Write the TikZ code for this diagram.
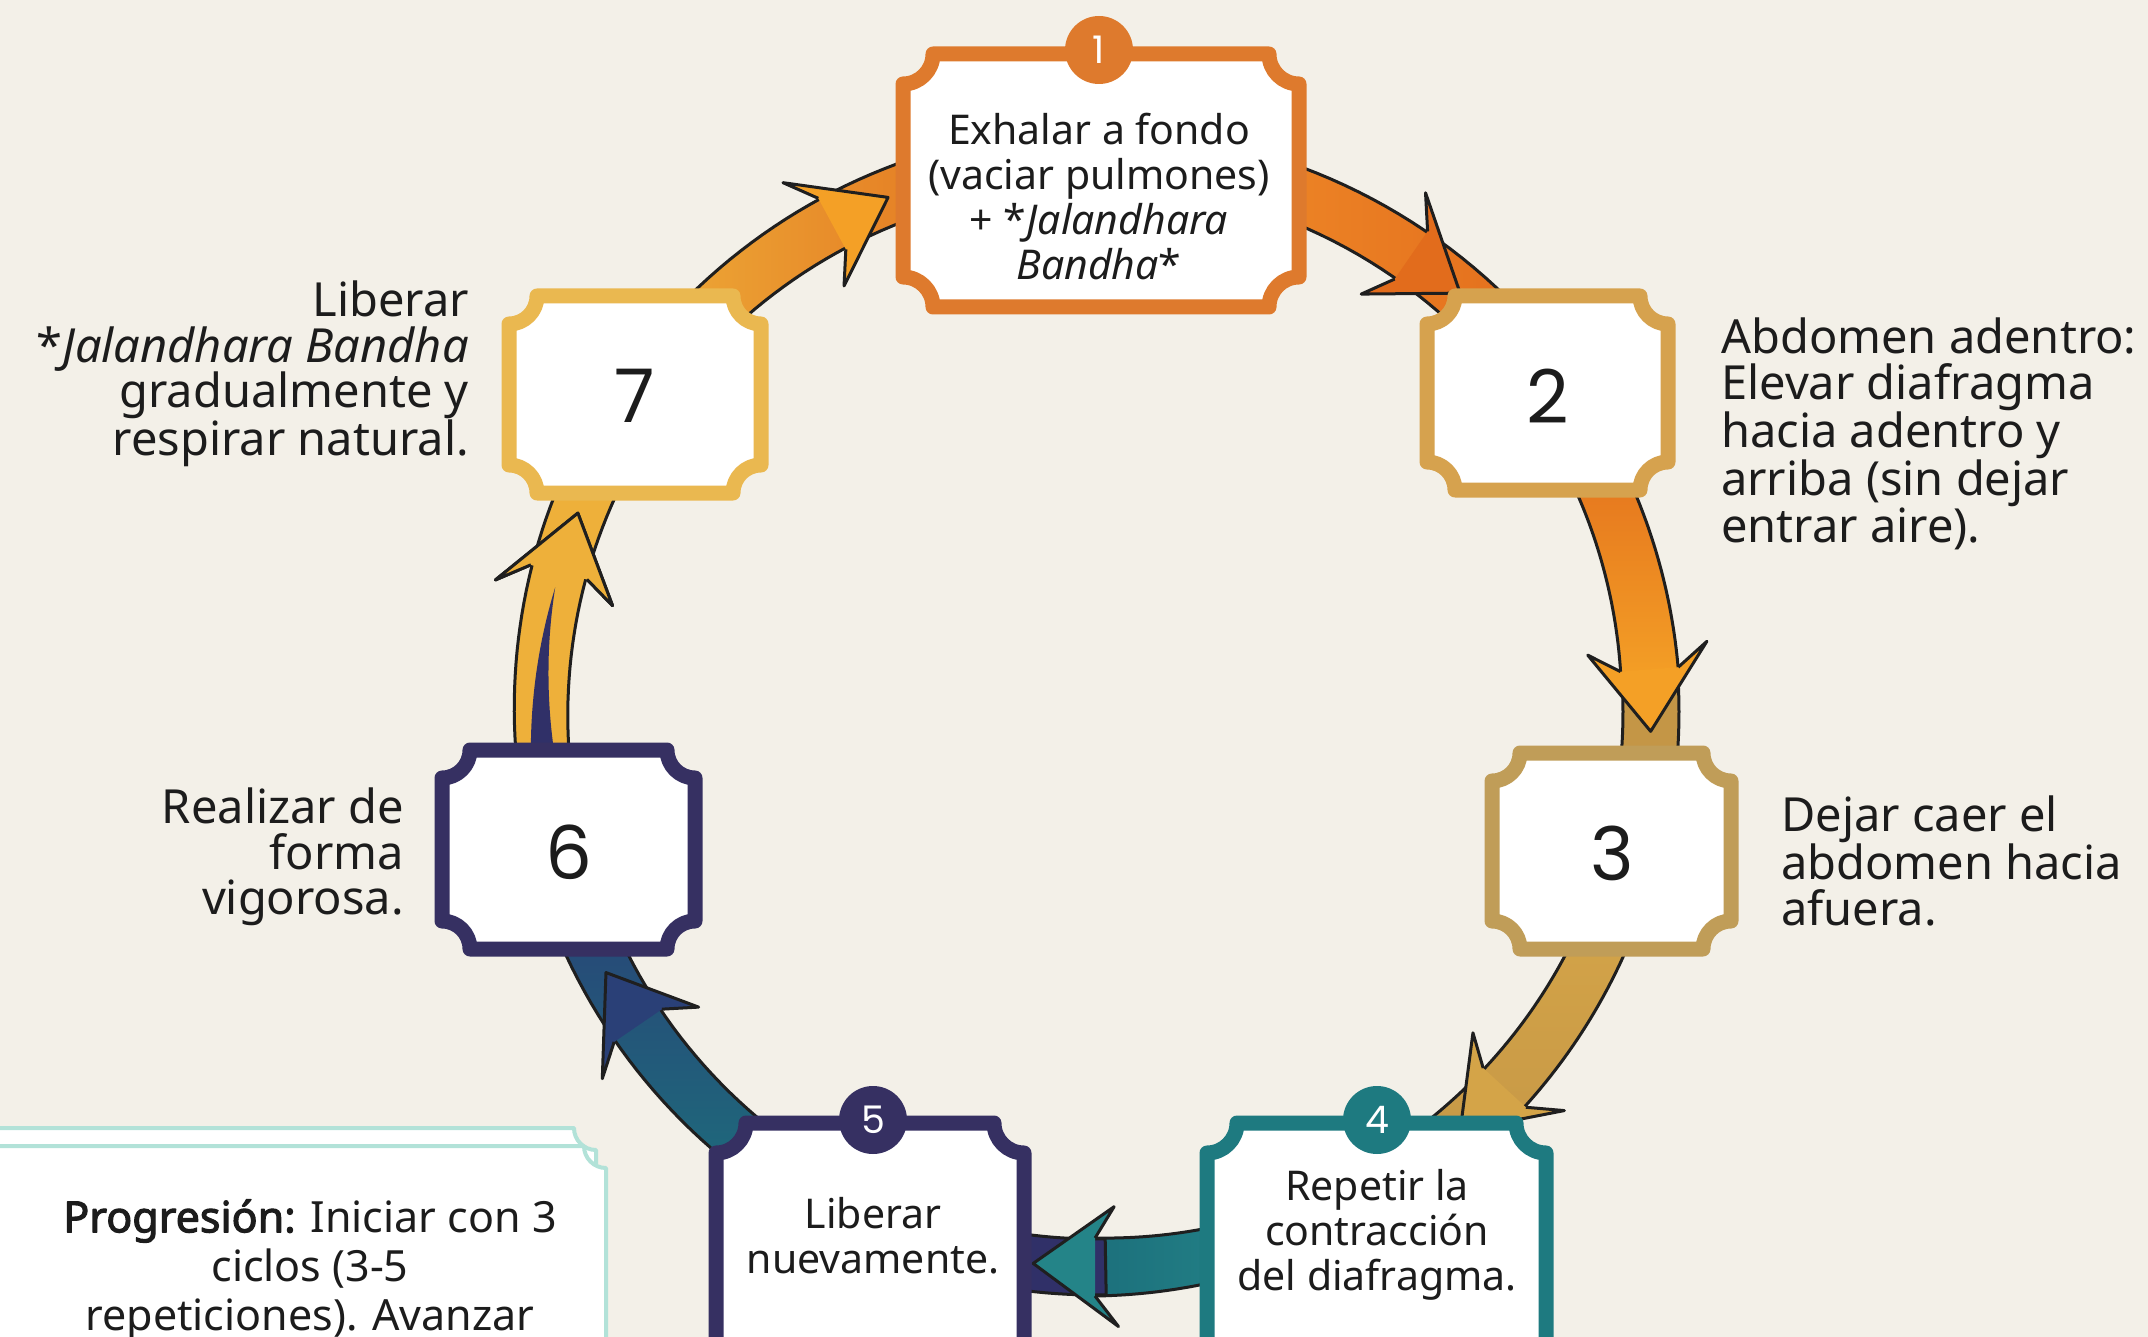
\documentclass[tikz,border=0pt]{standalone}
\usepackage{fontspec}
\setmainfont{Noto Sans}[AutoFakeBold=2.5]
\newfontfamily\numfont{Poppins}
\definecolor{bg}{RGB}{243,240,232}
\definecolor{txt}{RGB}{28,28,28}
\definecolor{c1}{RGB}{222,122,45}
\definecolor{c2}{RGB}{214,162,78}
\definecolor{c3}{RGB}{192,157,88}
\definecolor{c4}{RGB}{30,122,128}
\definecolor{c5}{RGB}{54,48,98}
\definecolor{c7}{RGB}{234,184,80}
\definecolor{aqua}{RGB}{178,226,216}
\definecolor{orA}{RGB}{245,150,45}
\definecolor{orB}{RGB}{226,108,28}
\definecolor{orC}{RGB}{244,160,38}
\definecolor{tanA}{RGB}{212,164,72}
\definecolor{tanB}{RGB}{196,150,70}
\definecolor{tealA}{RGB}{28,112,124}
\definecolor{tealB}{RGB}{36,132,136}
\definecolor{navA}{RGB}{44,56,118}
\definecolor{navB}{RGB}{48,48,104}
\definecolor{goldA}{RGB}{238,176,58}
\tikzset{
  arrowline/.style={draw=black!88, line width=3},
  sidetxt/.style={font=\fontsize{47}{45.5}\selectfont, text=txt, inner sep=0pt},
  boxtxt/.style={font=\fontsize{41}{45}\selectfont, text=txt, inner sep=0pt, align=center},
  numtxt/.style={font=\numfont\fontsize{74}{74}\selectfont, text=txt, inner sep=0pt},
  badge/.style={circle, minimum size=68pt, inner sep=0pt, text=white, font=\numfont\fontsize{38}{38}\selectfont},
  frame/.style={line width=15, fill=white}
}
\newcommand\notchbox[6]{\path[#6] (#1+#5,#2) -- (#3-#5,#2) .. controls (#3-#5,#2+0.552*#5) and (#3-0.552*#5,#2+#5) .. (#3,#2+#5) -- (#3,#4-#5) .. controls (#3-0.552*#5,#4-#5) and (#3-#5,#4-0.552*#5) .. (#3-#5,#4) -- (#1+#5,#4) .. controls (#1+#5,#4-0.552*#5) and (#1+0.552*#5,#4-#5) .. (#1,#4-#5) -- (#1,#2+#5) .. controls (#1+0.552*#5,#2+#5) and (#1+#5,#2+0.552*#5) .. (#1+#5,#2) -- cycle;}
% band along the ring: t0 t1 w0 w1 style
\newcommand\ringband[5]{%
  \path[#5] plot[domain=#1:#2,samples=40] ({(555+#3+(#4-#3)*(\x-(#1))/((#2)-(#1)))*cos(\x)},{(555+#3+(#4-#3)*(\x-(#1))/((#2)-(#1)))*sin(\x)}) -- plot[domain=#1:#2,samples=40] ({(555-#3-(#4-#3)*((#2)-\x)/((#2)-(#1)))*cos((#1)+(#2)-\x)},{(555-#3-(#4-#3)*((#2)-\x)/((#2)-(#1)))*sin((#1)+(#2)-\x)}) -- cycle;}
% arrow head only: ttip headcolor wjoin
\newcommand\ringhead[3]{%
  \pgfmathsetmacro\ra{#1-8.6}%
  \pgfmathsetmacro\rb{#1-6.4}%
  \pgfmathsetmacro\rwo{555+60}%
  \pgfmathsetmacro\rwi{555-60}%
  \pgfmathsetmacro\rjo{555+#3}%
  \pgfmathsetmacro\rji{555-#3}%
  \filldraw[arrowline,fill=#2] (\rb:\rjo) -- (\ra:\rwo) -- (#1:555) -- (\ra:\rwi) -- (\rb:\rji);
}
% t0 t1 ttip bodystyle headcolor w0 w1
\newcommand\ringarrow[7]{%
  \ringband{#1}{#2}{#6}{#7}{arrowline,#4}%
  \ringhead{#3}{#5}{#7}%
}
\begin{document}
\begin{tikzpicture}[x=1pt,y=-1pt,line join=round]
\fill[bg] (0,0) rectangle (2148,1337);
\useasboundingbox (0,0) rectangle (2148,1337);

% progression card
\notchbox{-30}{1128}{596}{1420}{22}{draw=aqua, line width=4, fill=white}
\notchbox{-30}{1146}{606}{1420}{22}{draw=aqua, line width=4, fill=white}
\node[boxtxt, font=\fontsize{43}{49}\selectfont] (prog) at (310,1270) {\textbf{Progresión:} Iniciar con 3\\ciclos (3-5\\repeticiones). Avanzar};

% ring arrows
\begin{scope}[shift={(1096,712)}]
\ringarrow{-95}{-36}{-49}{left color=orA, right color=orB}{orB}{26}{29}
% 2 -> 3
\ringband{-30}{-3}{26}{29}{arrowline, top color=orB, bottom color=orC}
\ringband{-4}{18}{28}{28}{arrowline, fill=tanB}
\ringhead{2}{orC}{29}
\ringarrow{22}{58}{49}{top color=tanA, bottom color=tanB}{tanA}{26}{29}
% 4 -> 5
\ringband{72}{90}{26}{29}{arrowline, left color=tealA, right color=tealB}
\ringband{89}{110}{28}{28}{arrowline, fill=navB}
\ringhead{96.5}{tealB}{29}
\ringarrow{118}{170}{152}{top color=navA, bottom color=tealA}{navA!85!tealA}{26}{29}
% 6 -> 7
\ringarrow{168}{215}{201}{fill=goldA}{goldA}{26}{29}
\ringband{168}{193}{17}{0}{fill=navB}
\ringhead{201}{goldA}{29}
\ringarrow{212}{265}{248}{left color=goldA, right color=orB}{orC}{26}{29}
\end{scope}

% boxes
\notchbox{903}{54}{1299}{307}{30}{frame, draw=c1}
\notchbox{1427}{296}{1668}{490}{28}{frame, draw=c2}
\notchbox{1492}{753}{1731}{949}{28}{frame, draw=c3}
\notchbox{1207}{1123}{1546}{1400}{30}{frame, draw=c4}
\notchbox{716}{1123}{1024}{1400}{30}{frame, draw=c5}
\notchbox{442}{750}{695}{949}{28}{frame, draw=c5}
\notchbox{509}{296}{761}{493}{28}{frame, draw=c7}

% badges
\node[badge, fill=c1] (k1) at (1099,50) {1};
\node[badge, fill=c4] (k4) at (1377,1120) {4};
\node[badge, fill=c5] (k5) at (873,1120) {5};

% box contents
\node[boxtxt] (b1) at (1099,197) {Exhalar a fondo\\(vaciar pulmones)\\+ *\textit{Jalandhara}\\\textit{Bandha}*};
\node[numtxt] (b2) at (1548,396) {2};
\node[numtxt] (b3) at (1612,853) {3};
\node[boxtxt] (b4) at (1377,1235) {Repetir la\\contracción\\del diafragma.};
\node[boxtxt] (b5) at (873,1236) {Liberar\\nuevamente.};
\node[numtxt] (b6) at (569,852) {6};
\node[numtxt] (b7) at (635,396) {7};

% side texts
\node[sidetxt, anchor=west, align=left] (s2) at (1721,434) {Abdomen adentro:\\Elevar diafragma\\hacia adentro y\\arriba (sin dejar\\entrar aire).};
\node[sidetxt, anchor=west, align=left] (s3) at (1781,861) {Dejar caer el\\abdomen hacia\\afuera.};
\node[sidetxt, anchor=east, align=right] (s7) at (469,374) {Liberar\\*\textit{Jalandhara Bandha}\\gradualmente y\\respirar natural.};
\node[sidetxt, anchor=east, align=right] (s6) at (404,857) {Realizar de\\forma\\vigorosa.};
\end{tikzpicture}
\end{document}
